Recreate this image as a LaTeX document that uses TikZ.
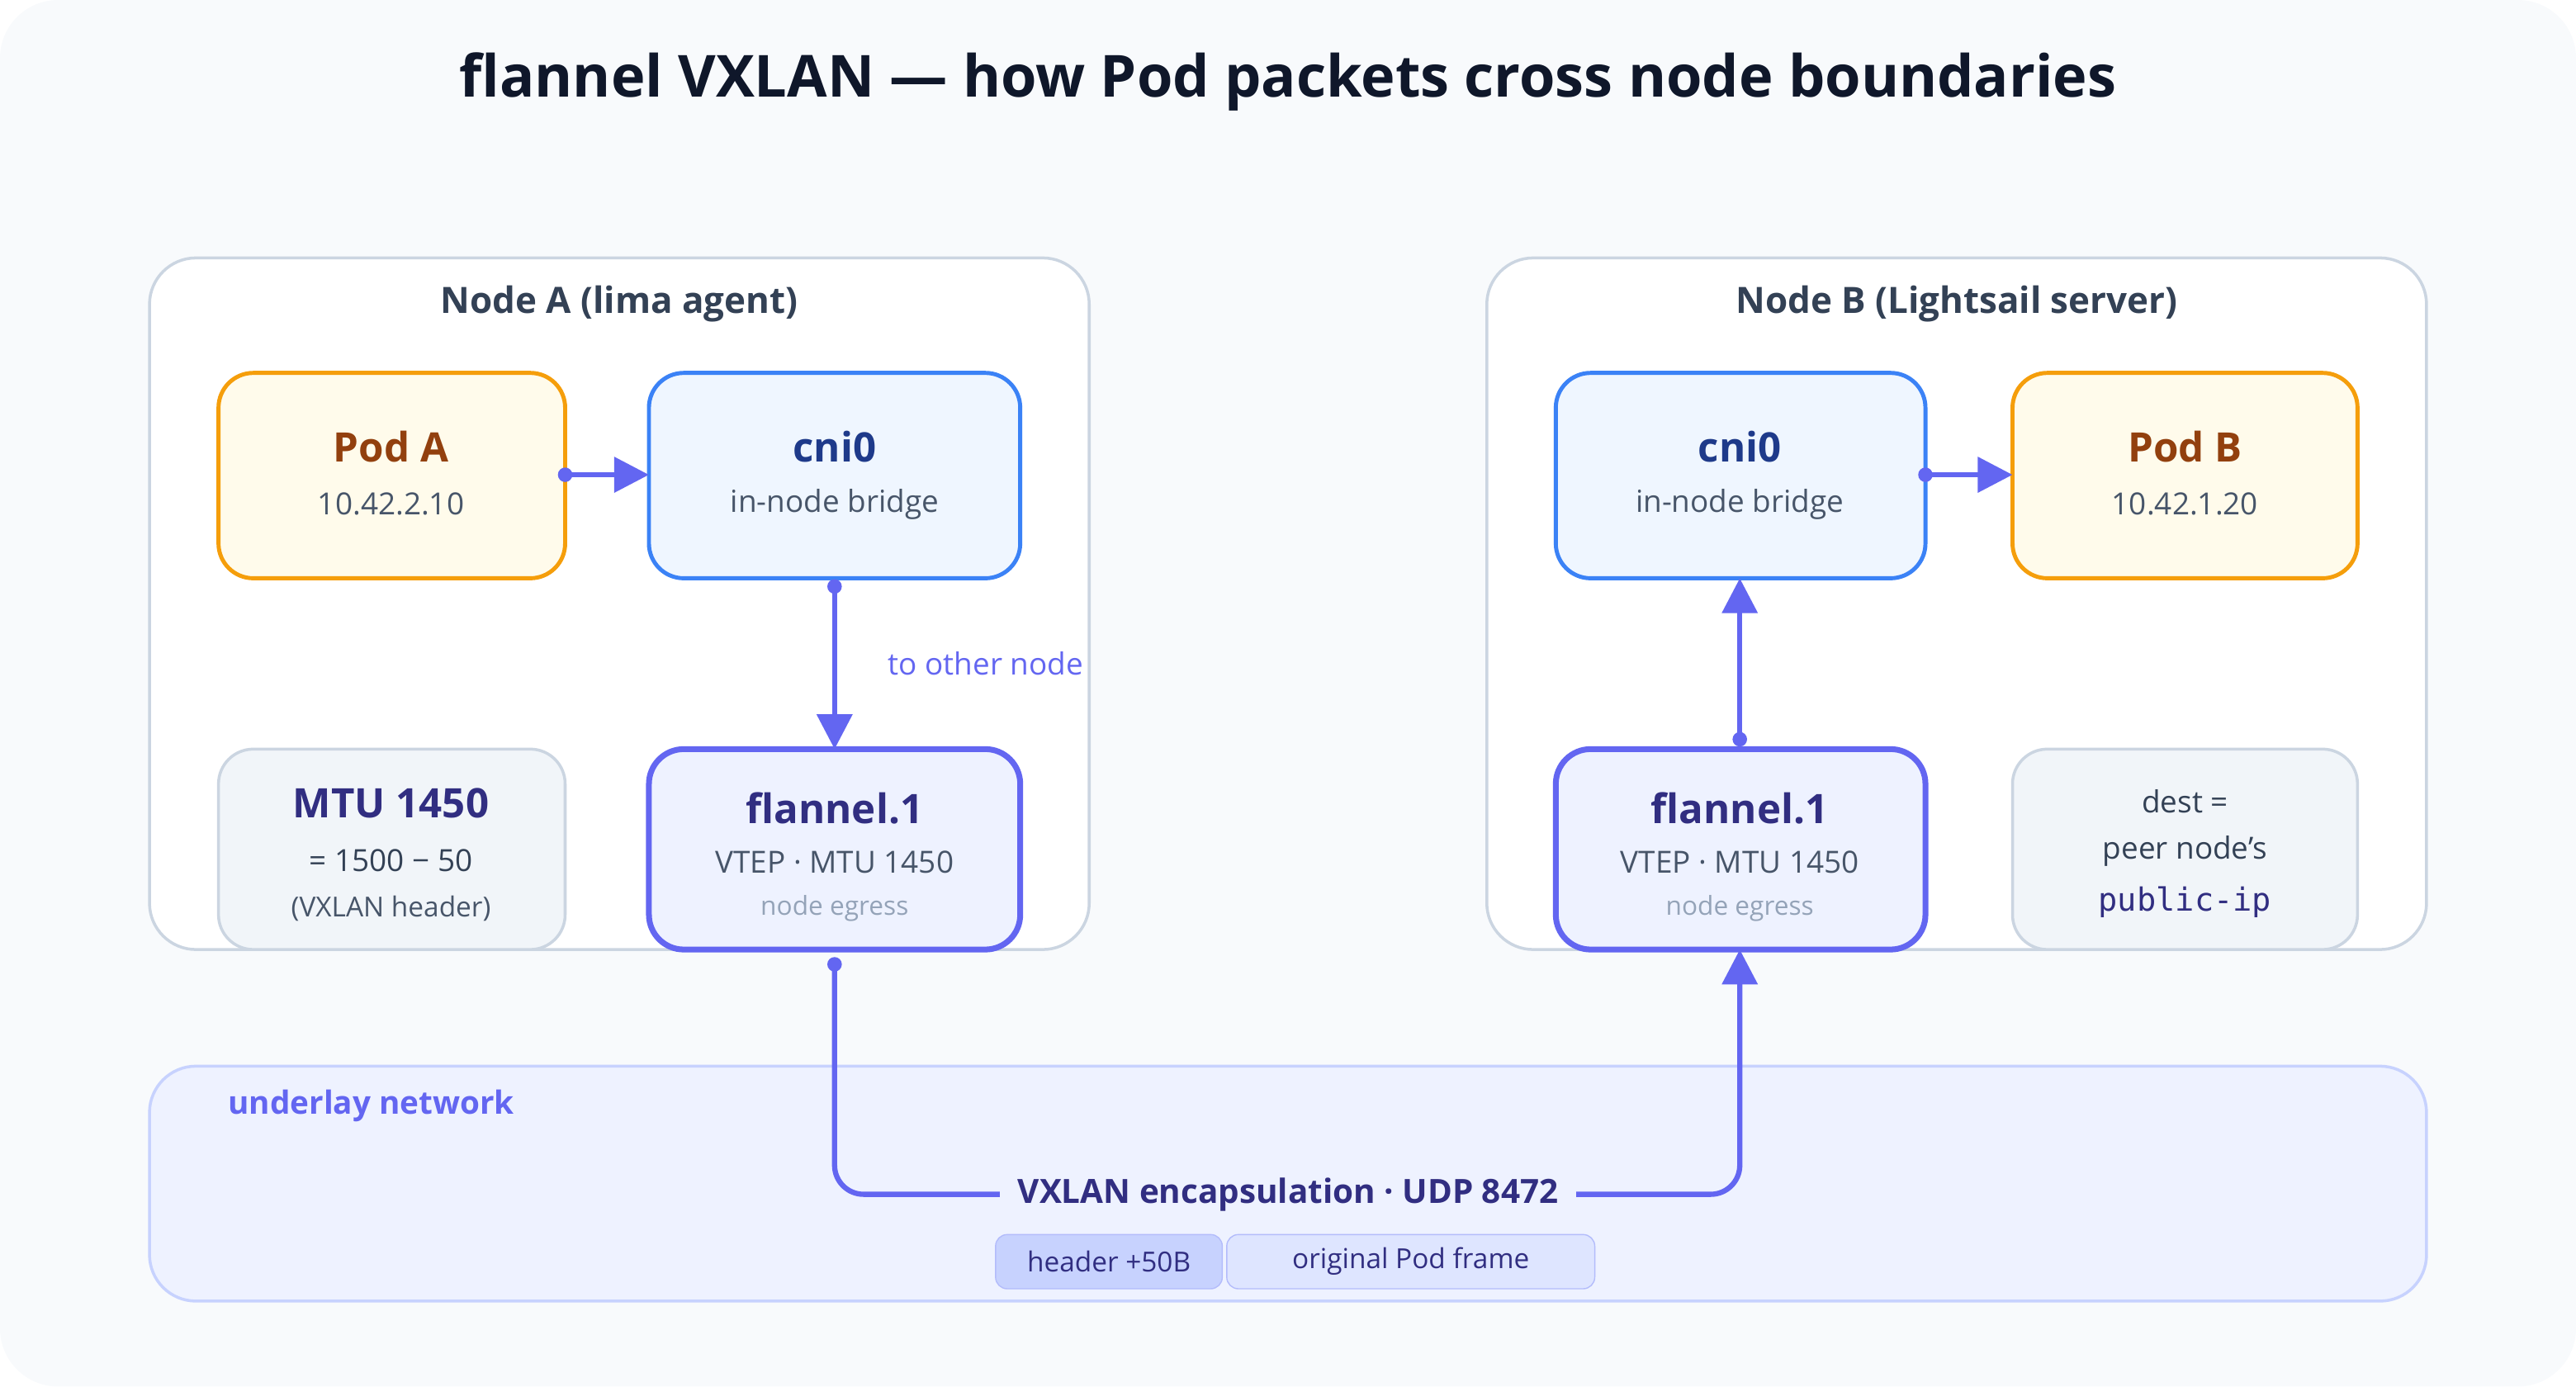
\documentclass[tikz,border=0pt]{standalone}
\usepackage{fontspec}
\setmainfont{Open Sans}
\setmonofont{DejaVu Sans Mono}
\usetikzlibrary{arrows.meta,positioning}
\definecolor{bgc}{HTML}{F8FAFC}
\definecolor{edgec}{HTML}{CBD5E1}
\definecolor{ink}{HTML}{0F172A}
\definecolor{slate}{HTML}{334155}
\definecolor{subc}{HTML}{475569}
\definecolor{mutec}{HTML}{94A3B8}
\definecolor{podf}{HTML}{FFFBEB}
\definecolor{podd}{HTML}{F59E0B}
\definecolor{podt}{HTML}{92400E}
\definecolor{brf}{HTML}{EFF6FF}
\definecolor{brd}{HTML}{3B82F6}
\definecolor{brt}{HTML}{1E3A8A}
\definecolor{vtf}{HTML}{EEF2FF}
\definecolor{vtd}{HTML}{6366F1}
\definecolor{vtt}{HTML}{312E81}
\definecolor{notef}{HTML}{F1F5F9}
\definecolor{undf}{HTML}{EEF2FF}
\definecolor{undd}{HTML}{C7D2FE}
\tikzset{
  box/.style={rounded corners=12pt, line width=1.4pt},
  pod/.style={box, draw=podd, fill=podf},
  bridge/.style={box, draw=brd, fill=brf},
  vtep/.style={box, draw=vtd, fill=vtf, line width=2pt},
  note/.style={box, draw=edgec, fill=notef, line width=1pt},
  hd/.style={font=\fontsize{14}{16}\selectfont\bfseries},
  sb/.style={font=\fontsize{10.5}{12}\selectfont, text=subc},
  flow/.style={draw=vtd, line width=1.8pt, -{Triangle[length=12pt,width=12pt]}},
  dot/.style={circle, fill=vtd, inner sep=0pt, minimum size=5pt},
}
\begin{document}
\begin{tikzpicture}[x=0.0199cm, y=-0.0199cm]
\useasboundingbox (0,0) rectangle (1568,844);
\fill[bgc, rounded corners=20pt] (0,0) rectangle (1568,844);
\node[font=\fontsize{20}{24}\selectfont\bfseries, text=ink] (title) at (784,50) {flannel VXLAN — how Pod packets cross node boundaries};

% node containers
\draw[fill=white, draw=edgec, line width=1pt, rounded corners=16pt] (91,157) rectangle (663,578);
\draw[fill=white, draw=edgec, line width=1pt, rounded corners=16pt] (905,157) rectangle (1477,578);
\node[font=\fontsize{12.5}{14}\selectfont\bfseries, text=slate] (labA) at (377,185) {Node A (lima agent)};
\node[font=\fontsize{12.5}{14}\selectfont\bfseries, text=slate] (labB) at (1191,185) {Node B (Lightsail server)};

% underlay
\draw[fill=undf, draw=undd, line width=1pt, rounded corners=16pt] (91,649) rectangle (1477,792);
\node[font=\fontsize{11}{13}\selectfont\bfseries, text=vtd] (under) at (226,673) {underlay network};

% Node A boxes
\draw[pod] (133,227) rectangle (344,352);
\node[hd, text=podt] at (238,272) {Pod A};
\node[sb] at (238,307) {10.42.2.10};
\draw[bridge] (395,227) rectangle (621,352);
\node[hd, text=brt] at (508,272) {cni0};
\node[sb] at (508,307) {in-node bridge};
\draw[note] (133,456) rectangle (344,578);
\node[hd, text=vtt] at (238,489) {MTU 1450};
\node[sb, text=slate] at (238,524) {= 1500 − 50};
\node[sb, font=\fontsize{9.5}{11}\selectfont, text=subc] at (238,553) {(VXLAN header)};
\draw[vtep] (395,456) rectangle (621,578);
\node[hd, text=vtt] at (508,492) {flannel.1};
\node[sb] at (508,525) {VTEP · MTU 1450};
\node[font=\fontsize{9}{11}\selectfont, text=mutec] at (508,553) {node egress};

% Node B boxes
\draw[bridge] (947,227) rectangle (1172,352);
\node[hd, text=brt] at (1059,272) {cni0};
\node[sb] at (1059,307) {in-node bridge};
\draw[pod] (1225,227) rectangle (1435,352);
\node[hd, text=podt] at (1330,272) {Pod B};
\node[sb] at (1330,307) {10.42.1.20};
\draw[vtep] (947,456) rectangle (1172,578);
\node[hd, text=vtt] at (1059,492) {flannel.1};
\node[sb] at (1059,525) {VTEP · MTU 1450};
\node[font=\fontsize{9}{11}\selectfont, text=mutec] at (1059,553) {node egress};
\draw[note] (1225,456) rectangle (1435,578);
\node[sb, text=slate] at (1330,488) {dest =};
\node[sb, text=slate] at (1330,518) {peer node's};
\node[font=\fontsize{11}{13}\selectfont\ttfamily, text=vtt] at (1330,549) {public-ip};

% anchor points
\coordinate (pAe) at (344,289); \coordinate (cAw) at (395,289);
\coordinate (cAs) at (508,357); \coordinate (fAn) at (508,456);
\coordinate (fAs) at (508,587); \coordinate (fBs) at (1059,578);
\coordinate (fBn) at (1059,450); \coordinate (cBs) at (1059,352);
\coordinate (cBe) at (1172,289); \coordinate (pBw) at (1225,289);

% encapsulated packet
\node[font=\fontsize{11.5}{13}\selectfont\bfseries, text=vtt, fill=undf, inner xsep=6pt] (encap) at (784,727) {VXLAN encapsulation · UDP 8472};
\node[draw=undd!80!vtd, fill=undd, rounded corners=4pt, minimum width=138*0.0199cm, minimum height=33*0.0199cm, font=\fontsize{9.5}{11}\selectfont, text=vtt] (hdr) at (675,768) {header +50B};
\node[draw=undd!80!vtd, fill=vtf!60!undd, rounded corners=4pt, minimum width=224*0.0199cm, minimum height=33*0.0199cm, font=\fontsize{9.5}{11}\selectfont, text=vtt, right=0.04cm of hdr] (frame) {original Pod frame};

% flows
\draw[flow] (pAe) -- (cAw);
\node[dot] at (pAe) {};
\draw[flow] (cAs) -- (fAn);
\node[dot] at (cAs) {};
\node[font=\fontsize{10.5}{12}\selectfont, text=vtd] (other) at (600,404) {to other node};
\draw[draw=vtd, line width=1.8pt, rounded corners=10pt] (fAs) |- (encap.west);
\node[dot] at (fAs) {};
\draw[flow, rounded corners=10pt] (encap.east) -| (fBs);
\draw[flow] (fBn) -- (cBs);
\node[dot] at (fBn) {};
\draw[flow] (cBe) -- (pBw);
\node[dot] at (cBe) {};
\end{tikzpicture}
\end{document}
